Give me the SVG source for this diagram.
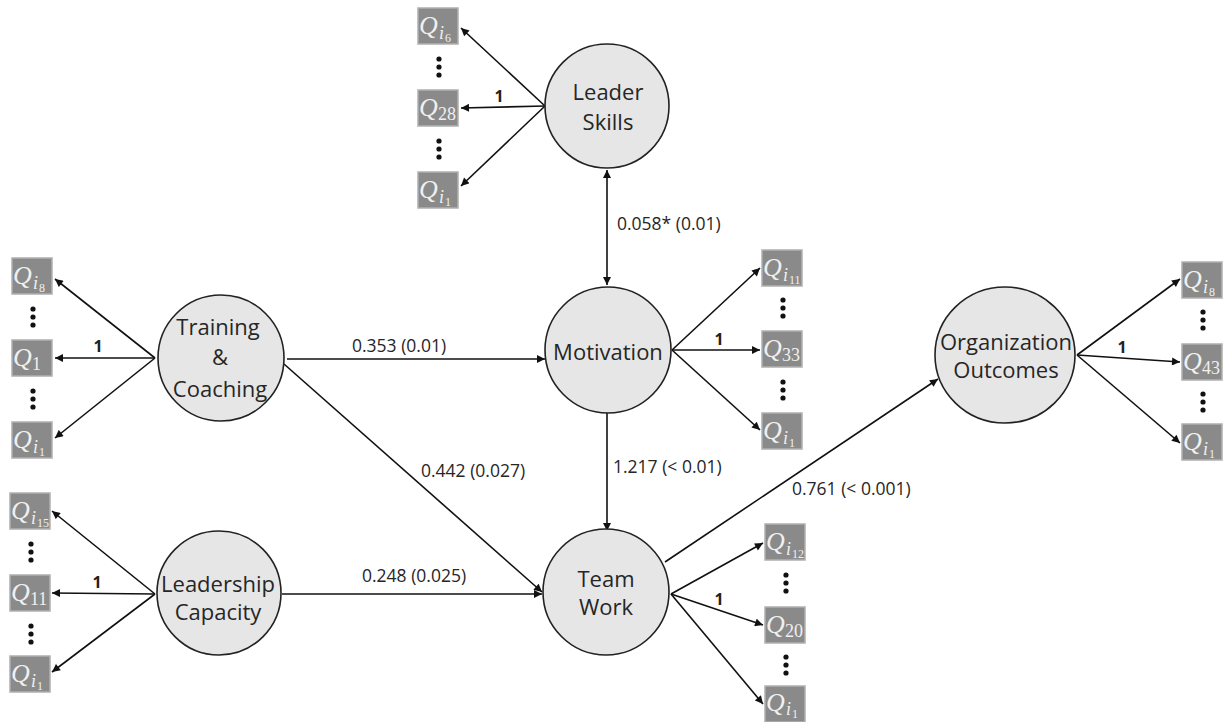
<svg xmlns="http://www.w3.org/2000/svg" width="1230" height="722" viewBox="0 0 1230 722">
<defs>
<marker id="ah" viewBox="0 0 10 10" refX="10" refY="5" markerWidth="9" markerHeight="8" markerUnits="userSpaceOnUse" orient="auto-start-reverse">
<path d="M0,0 L10,5 L0,10 z" fill="#111"/>
</marker>
<style>
.lat{fill:#e6e6e6;stroke:#222;stroke-width:1.6}
.nl{font-family:"Open Sans","Noto Sans",sans-serif;font-size:22px;fill:#262626;text-anchor:middle}
.el{font-family:"Open Sans","Noto Sans",sans-serif;font-size:17.5px;fill:#262626}
.one{font-family:"Open Sans","Noto Sans",sans-serif;font-size:16px;font-weight:bold;fill:#222;text-anchor:middle}
.cn line{stroke:#111;stroke-width:1.6;fill:none;marker-end:url(#ah)}
.box{fill:#8a8a8a;stroke:#b0b0b0;stroke-width:1.5}
.q{font-family:"Liberation Serif","DejaVu Serif",serif;font-style:italic;font-size:26px;fill:#f0f0f0}
.s1{font-family:"Liberation Serif","DejaVu Serif",serif;font-size:18px;fill:#f0f0f0}
.si{font-family:"Liberation Serif","DejaVu Serif",serif;font-style:italic;font-size:18px;fill:#f0f0f0}
.s2{font-family:"Liberation Serif","DejaVu Serif",serif;font-size:12px;fill:#f0f0f0}
.dot{fill:#111}
</style>
</defs>
<rect width="1230" height="722" fill="#ffffff"/>

<g id="connectors" class="cn">
<line x1="607" y1="170" x2="607" y2="285" marker-start="url(#ah)"/>
<line x1="287" y1="359" x2="545" y2="359"/>
<line x1="284" y1="364" x2="542" y2="592"/>
<line x1="282" y1="594" x2="542" y2="594"/>
<line x1="607" y1="413" x2="607" y2="531"/>
<line x1="665" y1="562" x2="938" y2="379"/>
<line x1="545" y1="106" x2="461" y2="28"/>
<line x1="545" y1="106" x2="461" y2="108"/>
<line x1="545" y1="106" x2="461" y2="186"/>
<line x1="155" y1="358" x2="55" y2="279"/>
<line x1="155" y1="358" x2="55" y2="358"/>
<line x1="155" y1="358" x2="55" y2="438"/>
<line x1="155" y1="594" x2="52" y2="511"/>
<line x1="155" y1="594" x2="52" y2="593"/>
<line x1="155" y1="594" x2="52" y2="672"/>
<line x1="672" y1="350" x2="760" y2="268"/>
<line x1="672" y1="350" x2="760" y2="350"/>
<line x1="672" y1="350" x2="760" y2="430"/>
<line x1="671" y1="594" x2="763" y2="543"/>
<line x1="671" y1="594" x2="763" y2="625"/>
<line x1="671" y1="594" x2="763" y2="704"/>
<line x1="1077" y1="355" x2="1180" y2="279"/>
<line x1="1077" y1="355" x2="1180" y2="362"/>
<line x1="1077" y1="355" x2="1180" y2="443"/>
</g>

<g id="edge-labels">
<text class="el" x="617" y="230">0.058* (0.01)</text>
<text class="el" x="352" y="352">0.353 (0.01)</text>
<text class="el" x="421" y="477">0.442 (0.027)</text>
<text class="el" x="362" y="582">0.248 (0.025)</text>
<text class="el" x="613" y="473">1.217 (&lt; 0.01)</text>
<text class="el" x="792" y="495">0.761 (&lt; 0.001)</text>
<text class="one" x="499" y="102">1</text>
<text class="one" x="98" y="352">1</text>
<text class="one" x="97" y="588">1</text>
<text class="one" x="719" y="345">1</text>
<text class="one" x="719" y="605">1</text>
<text class="one" x="1122" y="353">1</text>
</g>

<g id="leader-skills">
<circle class="lat" cx="607" cy="106" r="62"/>
<text class="nl" x="608" y="100">Leader</text>
<text class="nl" x="608" y="130">Skills</text>
</g>
<g id="training-coaching">
<circle class="lat" cx="221" cy="358" r="63"/>
<text class="nl" x="218" y="335">Training</text>
<text class="nl" x="220" y="365">&amp;</text>
<text class="nl" x="220" y="397">Coaching</text>
</g>
<g id="leadership-capacity">
<circle class="lat" cx="219" cy="593" r="62"/>
<text class="nl" x="218" y="592">Leadership</text>
<text class="nl" x="218" y="620">Capacity</text>
</g>
<g id="motivation">
<circle class="lat" cx="608" cy="350" r="63"/>
<text class="nl" x="608" y="360">Motivation</text>
</g>
<g id="team-work">
<circle class="lat" cx="606" cy="592" r="63"/>
<text class="nl" x="606" y="587">Team</text>
<text class="nl" x="606" y="615">Work</text>
</g>
<g id="organization-outcomes">
<ellipse class="lat" cx="1005" cy="355" rx="70" ry="68"/>
<text class="nl" x="1006" y="350">Organization</text>
<text class="nl" x="1006" y="378">Outcomes</text>
</g>

<g id="ls-qi6"><rect class="box" x="418" y="8" width="40" height="36"/><text class="q" x="419" y="34">Q</text><text class="si" x="439" y="39">i</text><text class="s2" x="445" y="42">6</text></g>
<g id="ls-dots1"><circle class="dot" cx="439" cy="59" r="2.6"/><circle class="dot" cx="439" cy="67" r="2.6"/><circle class="dot" cx="439" cy="75" r="2.6"/></g>
<g id="ls-q28"><rect class="box" x="418" y="90" width="40" height="36"/><text class="q" x="419" y="116">Q</text><text class="s1" x="438" y="120">28</text></g>
<g id="ls-dots2"><circle class="dot" cx="439" cy="141" r="2.6"/><circle class="dot" cx="439" cy="149" r="2.6"/><circle class="dot" cx="439" cy="157" r="2.6"/></g>
<g id="ls-qi1"><rect class="box" x="418" y="172" width="40" height="36"/><text class="q" x="419" y="198">Q</text><text class="si" x="439" y="203">i</text><text class="s2" x="445" y="206">1</text></g>

<g id="tc-qi8"><rect class="box" x="12" y="258" width="40" height="36"/><text class="q" x="13" y="284">Q</text><text class="si" x="33" y="289">i</text><text class="s2" x="39" y="292">8</text></g>
<g id="tc-dots1"><circle class="dot" cx="33" cy="309" r="2.6"/><circle class="dot" cx="33" cy="317" r="2.6"/><circle class="dot" cx="33" cy="325" r="2.6"/></g>
<g id="tc-q1"><rect class="box" x="12" y="340" width="40" height="36"/><text class="q" x="13" y="366">Q</text><text class="s1" x="32" y="370">1</text></g>
<g id="tc-dots2"><circle class="dot" cx="33" cy="391" r="2.6"/><circle class="dot" cx="33" cy="399" r="2.6"/><circle class="dot" cx="33" cy="407" r="2.6"/></g>
<g id="tc-qi1"><rect class="box" x="12" y="422" width="40" height="36"/><text class="q" x="13" y="448">Q</text><text class="si" x="33" y="453">i</text><text class="s2" x="39" y="456">1</text></g>

<g id="lc-qi15"><rect class="box" x="10" y="493" width="40" height="36"/><text class="q" x="11" y="519">Q</text><text class="si" x="31" y="524">i</text><text class="s2" x="37" y="527">15</text></g>
<g id="lc-dots1"><circle class="dot" cx="31" cy="544" r="2.6"/><circle class="dot" cx="31" cy="552" r="2.6"/><circle class="dot" cx="31" cy="560" r="2.6"/></g>
<g id="lc-q11"><rect class="box" x="10" y="575" width="40" height="36"/><text class="q" x="11" y="601">Q</text><text class="s1" x="30" y="605">11</text></g>
<g id="lc-dots2"><circle class="dot" cx="31" cy="626" r="2.6"/><circle class="dot" cx="31" cy="634" r="2.6"/><circle class="dot" cx="31" cy="642" r="2.6"/></g>
<g id="lc-qi1"><rect class="box" x="10" y="656" width="40" height="36"/><text class="q" x="11" y="682">Q</text><text class="si" x="31" y="687">i</text><text class="s2" x="37" y="690">1</text></g>

<g id="mo-qi11"><rect class="box" x="762" y="250" width="40" height="36"/><text class="q" x="763" y="276">Q</text><text class="si" x="783" y="281">i</text><text class="s2" x="789" y="284">11</text></g>
<g id="mo-dots1"><circle class="dot" cx="783" cy="300" r="2.6"/><circle class="dot" cx="783" cy="308" r="2.6"/><circle class="dot" cx="783" cy="316" r="2.6"/></g>
<g id="mo-q33"><rect class="box" x="762" y="331" width="40" height="36"/><text class="q" x="763" y="357">Q</text><text class="s1" x="782" y="361">33</text></g>
<g id="mo-dots2"><circle class="dot" cx="783" cy="382" r="2.6"/><circle class="dot" cx="783" cy="390" r="2.6"/><circle class="dot" cx="783" cy="398" r="2.6"/></g>
<g id="mo-qi1"><rect class="box" x="762" y="413" width="40" height="36"/><text class="q" x="763" y="439">Q</text><text class="si" x="783" y="444">i</text><text class="s2" x="789" y="447">1</text></g>

<g id="tw-qi12"><rect class="box" x="765" y="524" width="40" height="36"/><text class="q" x="766" y="550">Q</text><text class="si" x="786" y="555">i</text><text class="s2" x="792" y="558">12</text></g>
<g id="tw-dots1"><circle class="dot" cx="786" cy="575" r="2.6"/><circle class="dot" cx="786" cy="583" r="2.6"/><circle class="dot" cx="786" cy="591" r="2.6"/></g>
<g id="tw-q20"><rect class="box" x="765" y="607" width="40" height="36"/><text class="q" x="766" y="633">Q</text><text class="s1" x="785" y="637">20</text></g>
<g id="tw-dots2"><circle class="dot" cx="786" cy="657" r="2.6"/><circle class="dot" cx="786" cy="665" r="2.6"/><circle class="dot" cx="786" cy="673" r="2.6"/></g>
<g id="tw-qi1"><rect class="box" x="765" y="686" width="40" height="36"/><text class="q" x="766" y="711">Q</text><text class="si" x="786" y="715">i</text><text class="s2" x="792" y="718">1</text></g>

<g id="oo-qi8"><rect class="box" x="1182" y="262" width="40" height="36"/><text class="q" x="1183" y="288">Q</text><text class="si" x="1203" y="293">i</text><text class="s2" x="1209" y="296">8</text></g>
<g id="oo-dots1"><circle class="dot" cx="1203" cy="312" r="2.6"/><circle class="dot" cx="1203" cy="320" r="2.6"/><circle class="dot" cx="1203" cy="328" r="2.6"/></g>
<g id="oo-q43"><rect class="box" x="1182" y="344" width="40" height="36"/><text class="q" x="1183" y="370">Q</text><text class="s1" x="1202" y="374">43</text></g>
<g id="oo-dots2"><circle class="dot" cx="1203" cy="394" r="2.6"/><circle class="dot" cx="1203" cy="402" r="2.6"/><circle class="dot" cx="1203" cy="410" r="2.6"/></g>
<g id="oo-qi1"><rect class="box" x="1182" y="424" width="40" height="36"/><text class="q" x="1183" y="450">Q</text><text class="si" x="1203" y="455">i</text><text class="s2" x="1209" y="458">1</text></g>
</svg>
